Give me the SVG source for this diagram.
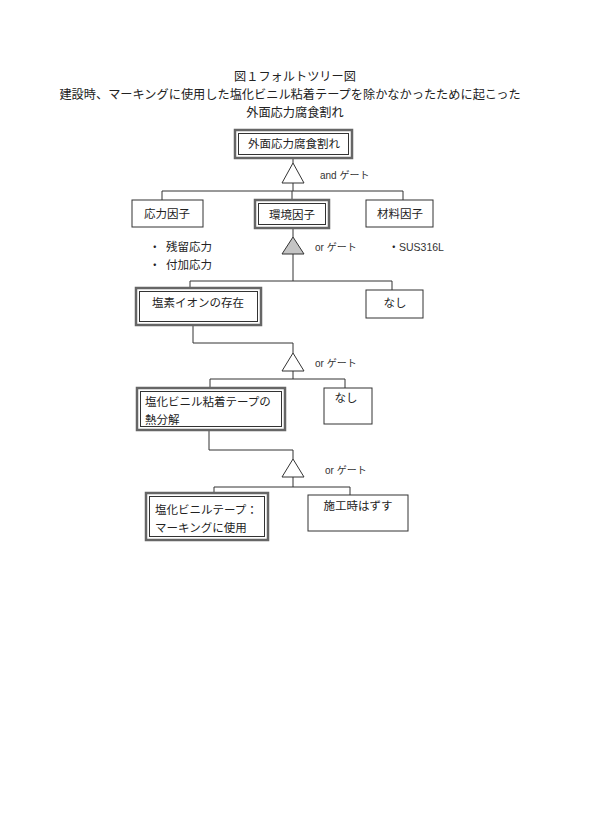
<svg xmlns="http://www.w3.org/2000/svg" width="591" height="835" viewBox="0 0 591 835">
<style>
.t{font-family:"Noto Sans CJK JP","Noto Sans",sans-serif;fill:#222;}
.title{font-size:12.2px;}
.box{font-size:11.5px;}
.lbl{font-size:10px;font-family:"Liberation Sans","Noto Sans CJK JP",sans-serif;fill:#333;}
.ob{fill:#fff;stroke:#666;stroke-width:2.5;}
.ib{fill:none;stroke:#333;stroke-width:1;}
.sb{fill:#fff;stroke:#333;stroke-width:1;}
.ln{fill:none;stroke:#333;stroke-width:1;}
.gate{fill:#fff;stroke:#333;stroke-width:1;}
.gateg{fill:#c4c4c4;stroke:#333;stroke-width:1;}
</style>
<rect width="591" height="835" fill="#fff"/>
<g id="title">
<text class="t title" x="295" y="81" text-anchor="middle">図１フォルトツリー図</text>
<text class="t title" x="290" y="99" text-anchor="middle">建設時、マーキングに使用した塩化ビニル粘着テープを除かなかったために起こった</text>
<text class="t title" x="295" y="117" text-anchor="middle">外面応力腐食割れ</text>
</g>
<g id="connectors">
<path class="ln" d="M293 158 V163 M293 183 V191 M162 191 H403 M162 191 V200 M292 191 V200 M403 191 V200"/>
<path class="ln" d="M293 228 V237 M293 254 V281 M190 281 H392 M190 281 V288 M392 281 V290"/>
<path class="ln" d="M193 325 V343 H293 V353 M293 371 V379 M210 379 H345 M210 379 V388 M345 379 V388"/>
<path class="ln" d="M209 430 V450 H293 V459 M293 477 V487 M214 487 H350 M214 487 V493 M350 487 V495"/>
<polygon class="gate" points="293,163 282,183 304,183"/>
<polygon class="gateg" points="293,237 282,254 304,254"/>
<polygon class="gate" points="293,353 282,371 304,371"/>
<polygon class="gate" points="293,459 282,477 304,477"/>
<text class="lbl" x="320" y="179">and ゲート</text>
<text class="lbl" x="315" y="251">or ゲート</text>
<text class="lbl" x="315" y="367">or ゲート</text>
<text class="lbl" x="325" y="474">or ゲート</text>
</g>
<g id="n-top">
<rect class="ob" x="235" y="130" width="117" height="28"/>
<rect class="ib" x="238.5" y="133.5" width="110" height="21"/>
<text class="t box" x="294" y="148" text-anchor="middle">外面応力腐食割れ</text>
</g>
<g id="n-stress">
<rect class="sb" x="132" y="200" width="71" height="27"/>
<text class="t box" x="167" y="218" text-anchor="middle">応力因子</text>
</g>
<g id="n-env">
<rect class="ob" x="255" y="200" width="74" height="28"/>
<rect class="ib" x="258.5" y="203.5" width="67" height="21"/>
<text class="t box" x="292" y="219" text-anchor="middle">環境因子</text>
</g>
<g id="n-material">
<rect class="sb" x="366" y="200" width="67" height="27"/>
<text class="t box" x="400" y="218" text-anchor="middle">材料因子</text>
</g>
<g id="notes">
<text class="t box" x="149" y="251">・</text>
<text class="t box" x="166" y="251">残留応力</text>
<text class="t box" x="149" y="269">・</text>
<text class="t box" x="166" y="269">付加応力</text>
<text class="t box" x="388" y="251">・</text>
<text class="lbl" x="399" y="251" style="font-size:10.5px">SUS316L</text>
</g>
<g id="n-chloride">
<rect class="ob" x="136" y="288" width="125" height="37"/>
<rect class="ib" x="139.5" y="291.5" width="118" height="30"/>
<text class="t box" x="198" y="307" text-anchor="middle">塩素イオンの存在</text>
</g>
<g id="n-none1">
<rect class="sb" x="366" y="290" width="57" height="28"/>
<text class="t box" x="395" y="307" text-anchor="middle">なし</text>
</g>
<g id="n-decomp">
<rect class="ob" x="137" y="388" width="148" height="42"/>
<rect class="ib" x="140.5" y="391.5" width="141" height="35"/>
<text class="t box" x="145" y="406">塩化ビニル粘着テープの</text>
<text class="t box" x="145" y="424">熱分解</text>
</g>
<g id="n-none2">
<rect class="sb" x="324" y="388" width="48" height="36"/>
<text class="t box" x="346" y="402" text-anchor="middle">なし</text>
</g>
<g id="n-tape">
<rect class="ob" x="146" y="493" width="122" height="47"/>
<rect class="ib" x="149.5" y="496.5" width="115" height="40"/>
<text class="t box" x="155" y="514">塩化ビニルテープ：</text>
<text class="t box" x="155" y="532">マーキングに使用</text>
</g>
<g id="n-remove">
<rect class="sb" x="308" y="495" width="100" height="36"/>
<text class="t box" x="358" y="510" text-anchor="middle">施工時はずす</text>
</g>
</svg>
